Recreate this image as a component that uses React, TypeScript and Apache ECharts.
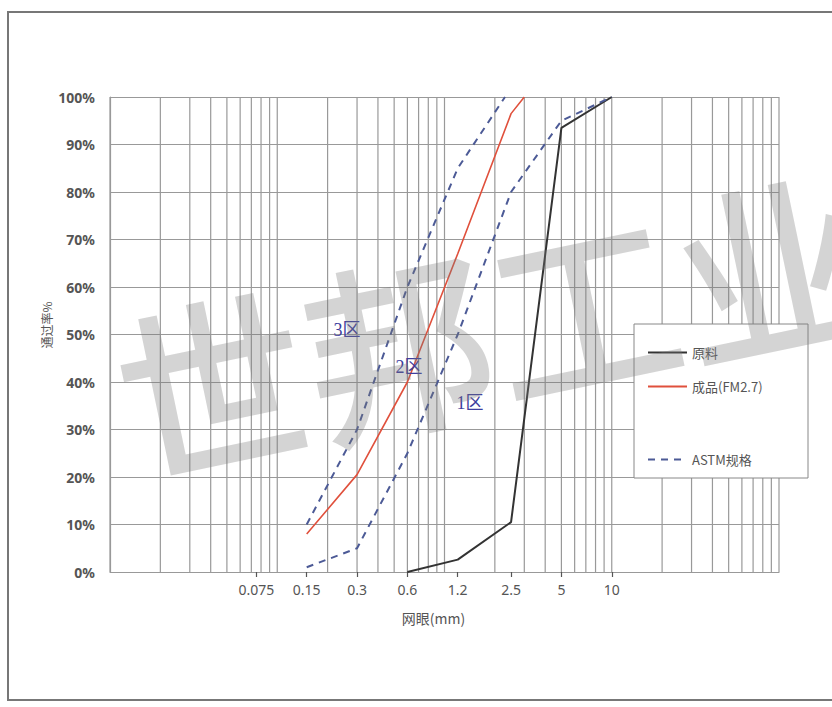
import React, { useEffect, useRef } from "react";
import * as echarts from "echarts";

// ---- data ----
const xTicks = [0.075, 0.15, 0.3, 0.6, 1.2, 2.5, 5, 10];
const gridMantissas = [1, 2, 3, 4, 5, 6, 7, 8, 9];
const gridDecades = [0.01, 0.1, 1, 10];
const gridTop = [100];

const rawX = [0.6, 1.2, 2.5, 5, 10];
const rawY = [0, 2.6, 10.5, 93.5, 100];

const productX = [0.15, 0.3, 0.6, 1.2, 2.5, 3];
const productY = [8, 20.5, 40, 67, 96.5, 100];

const astmUpperX = [0.15, 0.3, 0.6, 1.2, 2.3];
const astmUpperY = [10, 30, 60, 85, 100];

const astmLowerX = [0.15, 0.3, 0.6, 1.2, 2.5, 5, 10];
const astmLowerY = [1, 5, 25, 50, 80, 95, 100];

const zoneLabels = ["3区", "2区", "1区"];

const pairs = (xs: number[], ys: number[]) => xs.map((x, i) => [x, ys[i]]);

export default function App() {
  const ref = useRef<HTMLDivElement>(null);
  useEffect(() => {
    if (!ref.current) return;
    const chart = echarts.init(ref.current, null, { renderer: "svg" });
    const gridValues: number[] = [];
    gridDecades.forEach((d) => gridMantissas.forEach((m) => gridValues.push(+(d * m).toPrecision(6))));
    gridTop.forEach((v) => gridValues.push(v));

    const blue = "#4c5a96";
    const legendCommon = {
      orient: "vertical",
      left: 642,
      itemWidth: 39,
      itemHeight: 14,
      z: 10,
      itemStyle: { opacity: 0 },
      textStyle: { color: "#555", fontSize: 13, fontFamily: "Noto Sans CJK SC" },
    };
    const option: any = {
      animation: false,
      backgroundColor: "#ffffff",
      grid: { left: 110, right: 53, top: 97, bottom: 135 },
      xAxis: {
        type: "log",
        logBase: 10,
        min: 0.01,
        max: 100,
        splitLine: { show: false },
        axisLine: { show: true, lineStyle: { color: "#999", width: 1.2 } },
        axisTick: {
          show: true,
          customValues: xTicks,
          length: 5,
          lineStyle: { color: "#555", width: 1.2 },
        },
        axisLabel: {
          customValues: xTicks,
          formatter: (v: number) => String(+v.toPrecision(4)),
          color: "#555",
          fontSize: 14,
          fontFamily: "Noto Sans",
          margin: 10,
        },
        name: "网眼(mm)",
        nameLocation: "middle",
        nameGap: 39,
        nameTextStyle: { color: "#555", fontSize: 14, fontFamily: "Noto Sans CJK SC", padding: [0, 22, 0, 0] },
      },
      yAxis: {
        type: "value",
        min: 0,
        max: 100,
        interval: 10,
        axisLine: { show: true, lineStyle: { color: "#999", width: 1.2 } },
        axisTick: { show: false },
        splitLine: { show: true, lineStyle: { color: "#999", width: 1.2 } },
        axisLabel: {
          formatter: "{value}%",
          color: "#555",
          fontSize: 14,
          fontWeight: "bold",
          fontFamily: "Noto Sans",
          margin: 15,
        },
      },
      legend: [
        { ...legendCommon, data: ["原料", "成品(FM2.7)"], top: 341, itemGap: 21 },
        { ...legendCommon, data: ["ASTM规格"], top: 448 },
      ],
      graphic: [
        {
          type: "rect",
          z: 0,
          shape: { x: 8, y: 12, width: 840, height: 688 },
          style: { fill: "none", stroke: "#777", lineWidth: 2 },
        },
        {
          type: "rect",
          z: 4,
          shape: { x: 634, y: 324, width: 174, height: 154 },
          style: { fill: "#fff", stroke: "#888", lineWidth: 1 },
        },
        {
          type: "text",
          z: 6,
          x: 46,
          y: 325,
          rotation: Math.PI / 2,
          style: {
            text: "通过率%",
            fontSize: 12,
            fontFamily: "Noto Sans CJK SC",
            fill: "#555",
            align: "center",
            verticalAlign: "middle",
          },
        },
        ...[
          [347, 330],
          [409, 367],
          [470, 403],
        ].map((p, i) => ({
          type: "text",
          z: 6,
          x: p[0],
          y: p[1],
          style: {
            text: zoneLabels[i],
            fontSize: 18,
            fontFamily: "Liberation Serif, Noto Sans CJK SC",
            fill: "#3d3d9e",
            align: "center",
            verticalAlign: "middle",
          },
        })),
        {
          type: "text",
          z: 20,
          silent: true,
          x: 490,
          y: 320,
          rotation: 0.205,
          style: {
            text: "世邦工业",
            fontSize: 190,
            fontWeight: 500,
            fontFamily: "Noto Sans CJK SC",
            fill: "rgba(120,120,120,0.32)",
            align: "center",
            verticalAlign: "middle",
          },
        },
      ],
      series: [
        {
          type: "custom",
          silent: true,
          z: 0,
          data: gridValues.map((v) => [v]),
          renderItem: (params: any, api: any) => {
            const v = api.value(0);
            const p0 = api.coord([v, 0]);
            const p1 = api.coord([v, 100]);
            return {
              type: "line",
              shape: { x1: p0[0], y1: p0[1], x2: p1[0], y2: p1[1] },
              style: { stroke: "#999", lineWidth: 1.2 },
            };
          },
        },
        {
          name: "原料",
          type: "line",
          z: 3,
          symbol: "none",
          data: pairs(rawX, rawY),
          lineStyle: { color: "#333", width: 2 },
          itemStyle: { color: "#333" },
        },
        {
          name: "成品(FM2.7)",
          type: "line",
          z: 3,
          symbol: "none",
          data: pairs(productX, productY),
          lineStyle: { color: "#e0503c", width: 1.6 },
          itemStyle: { color: "#e0503c" },
        },
        {
          name: "ASTM规格",
          type: "line",
          z: 3,
          symbol: "none",
          data: pairs(astmUpperX, astmUpperY),
          lineStyle: { color: blue, width: 2, type: [7, 6] },
          itemStyle: { color: blue },
        },
        {
          name: "ASTM规格",
          type: "line",
          z: 3,
          symbol: "none",
          data: pairs(astmLowerX, astmLowerY),
          lineStyle: { color: blue, width: 2, type: [7, 6] },
          itemStyle: { color: blue },
        },
      ],
    };
    chart.setOption(option);
    return () => chart.dispose();
  }, []);
  return (
    <div
      ref={ref}
      style={{ position: "fixed", left: 0, top: 0, width: 832, height: 707 }}
    />
  );
}
